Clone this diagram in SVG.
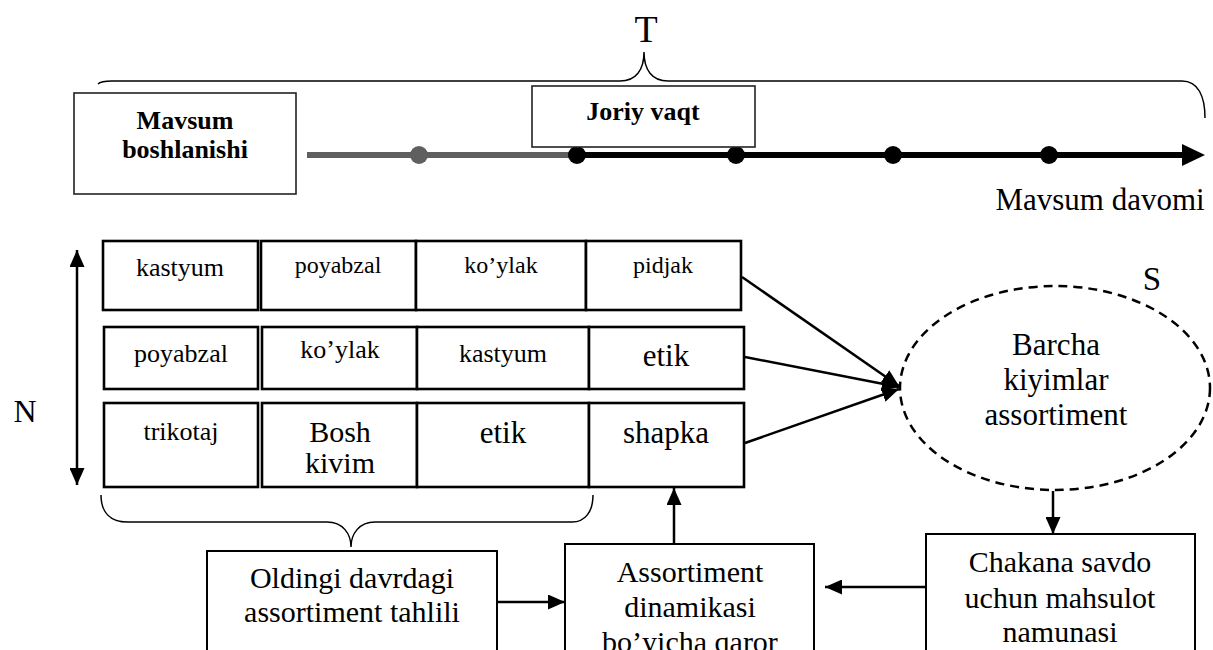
<svg xmlns="http://www.w3.org/2000/svg" width="1213" height="650" viewBox="0 0 1213 650">
<style>
text{font-family:"Liberation Serif","Times New Roman",serif;fill:#000;text-anchor:middle}
.b{font-weight:bold;font-size:26px}
.box{fill:#fff;stroke:#222;stroke-width:1.6}
.bb{fill:#fff;stroke:#000;stroke-width:2}
.cell{fill:#fff;stroke:#000;stroke-width:2.6}
.brace{fill:none;stroke:#000;stroke-width:1.5}
.con{fill:none;stroke:#000;stroke-width:2.5}
.f24{font-size:24px}.f26{font-size:26px}.f30{font-size:30px}.f31{font-size:31px}
</style>
<defs>
<marker id="ah" markerUnits="userSpaceOnUse" markerWidth="17" markerHeight="15" refX="17" refY="7.5" orient="auto-start-reverse">
<path d="M0,0 L17,7.5 L0,15 z" fill="#000"/>
</marker>
</defs>

<g id="timeline">
<path class="brace" d="M98,84 Q101,81 112,81 H620 C636,81 644,70 644,52 C644,70 652,81 668,81 H1182 C1198,81 1205,96 1205,118"/>
<text x="646" y="42" style="font-size:38px">T</text>
<line x1="307" y1="155" x2="577" y2="155" stroke="#5f5f5f" stroke-width="6"/>
<line x1="577" y1="155" x2="1185" y2="155" stroke="#000" stroke-width="6"/>
<polygon points="1182,144 1205,155 1182,166" fill="#000"/>
<circle cx="419" cy="155" r="9" fill="#5f5f5f"/>
<circle cx="577" cy="155" r="9" fill="#000"/>
<circle cx="736" cy="155" r="9" fill="#000"/>
<circle cx="893" cy="155" r="9" fill="#000"/>
<circle cx="1049" cy="155" r="9" fill="#000"/>
<text x="1100" y="210" class="f31">Mavsum davomi</text>
</g>

<g id="mavsum-boshlanishi">
<rect class="box" x="74" y="93" width="222" height="101"/>
<text x="185" y="129" class="b">Mavsum</text>
<text x="185" y="158" class="b">boshlanishi</text>
</g>

<g id="joriy-vaqt">
<rect class="box" x="532" y="86" width="223" height="61"/>
<text x="643" y="120" class="b">Joriy vaqt</text>
</g>

<g id="n-axis">
<line class="con" x1="77" y1="250" x2="77" y2="485" marker-start="url(#ah)" marker-end="url(#ah)"/>
<text x="25" y="422" style="font-size:32px">N</text>
</g>

<g id="row1">
<rect class="cell" x="103" y="241" width="155" height="69"/>
<rect class="cell" x="261" y="241" width="155" height="69"/>
<rect class="cell" x="416" y="241" width="170" height="69"/>
<rect class="cell" x="586" y="241" width="155" height="69"/>
<text x="180" y="276" class="f26">kastyum</text>
<text x="338" y="273" class="f24">poyabzal</text>
<text x="501" y="273" class="f24">ko’ylak</text>
<text x="663" y="273" class="f24">pidjak</text>
</g>

<g id="row2">
<rect class="cell" x="104" y="327" width="154" height="62"/>
<rect class="cell" x="262" y="327" width="155" height="62"/>
<rect class="cell" x="417" y="327" width="172" height="62"/>
<rect class="cell" x="589" y="327" width="155" height="62"/>
<text x="181" y="362" class="f26">poyabzal</text>
<text x="340" y="358" class="f26">ko’ylak</text>
<text x="503" y="362" class="f26">kastyum</text>
<text x="666" y="366" class="f31">etik</text>
</g>

<g id="row3">
<rect class="cell" x="104" y="403" width="154" height="84"/>
<rect class="cell" x="262" y="403" width="155" height="84"/>
<rect class="cell" x="417" y="403" width="172" height="84"/>
<rect class="cell" x="589" y="403" width="155" height="84"/>
<text x="181" y="440" class="f26">trikotaj</text>
<text x="340" y="442" class="f30">Bosh</text>
<text x="340" y="473" class="f30">kivim</text>
<text x="503" y="443" class="f31">etik</text>
<text x="666" y="443" class="f31">shapka</text>
</g>

<g id="lower-brace">
<path class="brace" d="M101,495 C101,512 110,522 128,522 H327 C343,522 351,534 351,547 C351,534 359,522 375,522 H572 C585,522 593,512 593,495"/>
</g>

<g id="barcha-kiyimlar">
<ellipse cx="1055" cy="388" rx="155" ry="102" fill="none" stroke="#000" stroke-width="2.5" stroke-dasharray="9,6"/>
<text x="1056" y="355" class="f31">Barcha</text>
<text x="1056" y="390" class="f31">kiyimlar</text>
<text x="1056" y="425" class="f31">assortiment</text>
<text x="1152" y="290" style="font-size:33px">S</text>
</g>

<g id="oldingi">
<rect class="bb" x="207" y="551" width="290" height="110"/>
<text x="352" y="588" class="f30">Oldingi davrdagi</text>
<text x="352" y="622" class="f30">assortiment tahlili</text>
</g>

<g id="assortiment-dinamikasi">
<rect class="bb" x="565" y="544" width="249" height="117"/>
<text x="690" y="582" class="f30">Assortiment</text>
<text x="690" y="617" class="f30">dinamikasi</text>
<text x="690" y="652" class="f30">bo’yicha qaror</text>
</g>

<g id="chakana">
<rect class="bb" x="926" y="534" width="269" height="127"/>
<text x="1060" y="572" class="f30">Chakana savdo</text>
<text x="1060" y="608" class="f30">uchun mahsulot</text>
<text x="1060" y="642" class="f30">namunasi</text>
</g>

<g id="connectors">
<line class="con" x1="742" y1="277" x2="899" y2="386" marker-end="url(#ah)"/>
<line class="con" x1="745" y1="357" x2="899" y2="387" marker-end="url(#ah)"/>
<line class="con" x1="745" y1="443" x2="899" y2="389" marker-end="url(#ah)"/>
<line class="con" x1="1053" y1="491" x2="1053" y2="534" marker-end="url(#ah)"/>
<line class="con" x1="926" y1="587" x2="825" y2="587" marker-end="url(#ah)"/>
<line class="con" x1="674" y1="544" x2="674" y2="488" marker-end="url(#ah)"/>
<line class="con" x1="498" y1="602" x2="565" y2="602" marker-end="url(#ah)"/>
</g>
</svg>
